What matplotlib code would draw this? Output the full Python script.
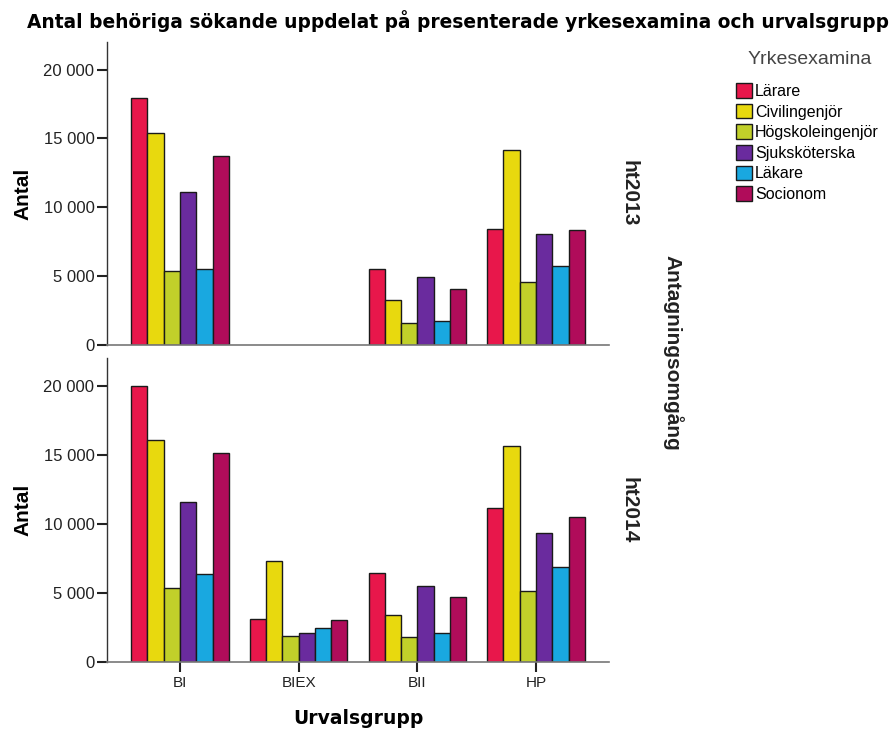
import matplotlib
matplotlib.use("Agg")
import matplotlib.pyplot as plt
from matplotlib.ticker import FuncFormatter, MultipleLocator
from matplotlib.patches import Patch
import numpy as np

categories = ["BI", "BIEX", "BII", "HP"]
professions = ["Lärare", "Civilingenjör", "Högskoleingenjör", "Sjuksköterska", "Läkare", "Socionom"]
colors = ["#E8174B", "#E8D90E", "#C1D02A", "#6A2B9E", "#19A8E0", "#B00C5A"]

# values per profession, per category [BI, BIEX, BII, HP]
ht2013 = {
    "Lärare":           [17900, None, 5500, 8400],
    "Civilingenjör":    [15400, None, 3300, 14150],
    "Högskoleingenjör": [5350, None, 1600, 4600],
    "Sjuksköterska":    [11100, None, 4970, 8070],
    "Läkare":           [5500, None, 1760, 5700],
    "Socionom":         [13700, None, 4060, 8320],
}
ht2014 = {
    "Lärare":           [19950, 3090, 6460, 11120],
    "Civilingenjör":    [16100, 7330, 3400, 15650],
    "Högskoleingenjör": [5380, 1880, 1790, 5140],
    "Sjuksköterska":    [11560, 2070, 5520, 9310],
    "Läkare":           [6370, 2440, 2070, 6900],
    "Socionom":         [15100, 3020, 4700, 10500],
}
panels = [("ht2013", ht2013), ("ht2014", ht2014)]

W, H = 895, 734
fig = plt.figure(figsize=(W / 100, H / 100), dpi=100)

def frac(left, top, right, bottom):
    return [left / W, (H - bottom) / H, (right - left) / W, (bottom - top) / H]

axes = [fig.add_axes(frac(107, 42, 609, 345)), fig.add_axes(frac(107, 358, 609, 662))]

bw = 0.137
x = np.arange(len(categories))
fmt = FuncFormatter(lambda v, p: f"{int(v):,}".replace(",", " "))

for ax, (pname, data) in zip(axes, panels):
    for i, prof in enumerate(professions):
        vals = data[prof]
        xs = [x[j] + (i - 2.5) * bw for j in range(len(categories)) if vals[j] is not None]
        ys = [v for v in vals if v is not None]
        ax.bar(xs, ys, width=bw, color=colors[i], edgecolor="#1a1a1a", linewidth=1.0, zorder=2)
    ax.set_xlim(-0.615, 3.615)
    ax.set_ylim(0, 22000)
    ax.yaxis.set_major_locator(MultipleLocator(5000))
    ax.yaxis.set_major_formatter(fmt)
    for s in ["top", "right"]:
        ax.spines[s].set_visible(False)
    ax.spines["left"].set_color("#333333")
    ax.spines["left"].set_linewidth(1.0)
    ax.spines["bottom"].set_color("#777777")
    ax.spines["bottom"].set_linewidth(1.2)
    ax.tick_params(axis="y", length=7.5, width=1.5, color="#222222", labelsize=12,
                   labelcolor="#222222", pad=1.5)
    for lab in ax.get_yticklabels():
        lab.set_fontfamily("Liberation Sans")
    ax.set_ylabel("Antal", fontsize=15, fontweight="bold", family="Liberation Sans", labelpad=8)
    ax.text(1.04, 0.5, pname, transform=ax.transAxes, rotation=-90, ha="center", va="center",
            fontsize=15, fontweight="bold", family="Liberation Sans", color="#222222")
    ax.set_xticks(x)
    if pname == "ht2013":
        ax.tick_params(axis="x", length=0, labelbottom=False)
    else:
        ax.set_xticklabels(categories)
        ax.tick_params(axis="x", length=7, width=1.5, color="#222222", labelsize=11,
                       labelcolor="#222222", pad=3)
        for lab in ax.get_xticklabels():
            lab.set_fontfamily("Liberation Sans")

axes[1].set_xlabel("Urvalsgrupp", fontsize=13.5, fontweight="bold", family="DejaVu Sans", labelpad=14)

fig.text(673 / W, 1 - 353 / H, "Antagningsomgång", rotation=-90, ha="center", va="center",
         fontsize=15, fontweight="bold", family="Liberation Sans", color="#222222")

fig.text(458 / W, 1 - 21 / H, "Antal behöriga sökande uppdelat på presenterade yrkesexamina och urvalsgrupp",
         ha="center", va="center", fontsize=13.4, fontweight="bold", family="DejaVu Sans")

fig.text(810 / W, 1 - 60 / H, "Yrkesexamina", ha="center", va="center", fontsize=14,
         family="Liberation Sans", color="#444444")

handles = [Patch(facecolor=c, edgecolor="#1a1a1a", linewidth=1.0) for c in colors]
leg = fig.legend(handles, professions, loc="upper left", bbox_to_anchor=(736 / W, 1 - 83 / H),
                 frameon=False, handlelength=1.0, handleheight=1.05, handletextpad=0.2,
                 labelspacing=0.3, borderaxespad=0, borderpad=0,
                 prop={"family": "Liberation Sans", "size": 11.5})

fig.savefig("out.png", dpi=100)
